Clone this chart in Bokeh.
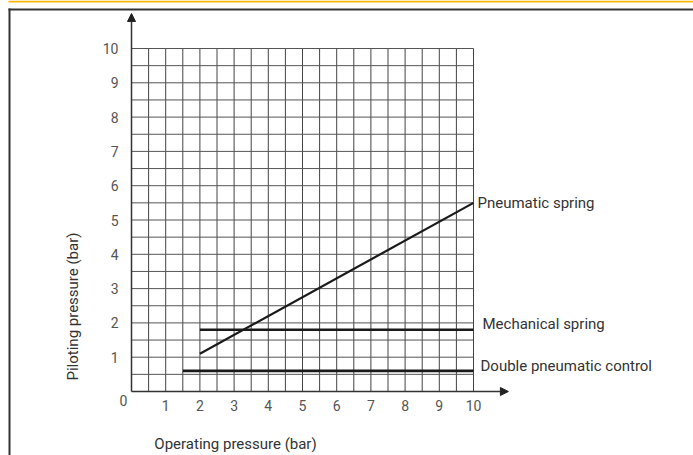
import numpy as np
from math import pi
from bokeh.plotting import figure
from bokeh.models import Range1d, FixedTicker, Label, Arrow, NormalHead, BoxAnnotation
from bokeh.embed import file_html
from bokeh.resources import INLINE

# ---- data ----
series_names = ["Pneumatic spring", "Mechanical spring", "Double pneumatic control"]
series_x = [[2, 10], [2, 10], [1.5, 10]]
series_y = [[1.1, 5.5], [1.8, 1.8], [0.6, 0.6]]
x_ticks = [1, 2, 3, 4, 5, 6, 7, 8, 9, 10]
y_ticks = [1, 2, 3, 4, 5, 6, 7, 8, 9, 10]
x_title = "Operating pressure (bar)"
y_title = "Piloting pressure (bar)"

FONT = "Roboto"
W, H = 693, 455
# pixel geometry of the plotting area
X0, Y0 = 131, 391          # canvas pixel of data origin
SX, SY = 34.2, 34.3        # pixels per unit

p = figure(width=W, height=H, output_backend="svg", toolbar_location=None,
           x_range=Range1d(-X0 / SX, (W - X0) / SX),
           y_range=Range1d(-(H - Y0) / SY, Y0 / SY), min_border=0)
p.outline_line_color = None
p.xgrid.visible = False
p.ygrid.visible = False
p.background_fill_color = "white"
p.border_fill_color = "white"

for ax, ticks in ((p.xaxis, x_ticks), (p.yaxis, y_ticks)):
    ax.fixed_location = 0
    ax.ticker = FixedTicker(ticks=ticks)
    ax.axis_line_color = None
    ax.major_tick_line_color = None
    ax.minor_tick_line_color = None
    ax.major_label_text_font = FONT
    ax.major_label_text_font_size = "14px"
    ax.major_label_text_color = "#555555"
p.xaxis.major_label_standoff = 2
p.yaxis.major_label_standoff = 7

# grid (every half unit, bounded 0..10)
gmax = max(x_ticks)
steps = np.arange(0.5, gmax + 0.01, 0.5)
p.segment(x0=steps, y0=0, x1=steps, y1=gmax, line_color="#444444", line_width=1)
p.segment(x0=0, y0=steps, x1=gmax, y1=steps, line_color="#555555", line_width=1)

# axes with arrows
for xe, ye in ((11.02, 0), (0, 11.02)):
    p.add_layout(Arrow(x_start=0, y_start=0, x_end=xe, y_end=ye, line_color="#333333",
                       line_width=1.5, end=NormalHead(size=8, fill_color="#222222",
                                                      line_color="#222222")))

# series
widths = [2.2, 2.6, 2.6]
offsets = [(4, 0), (9, 6), (7, 5)]
for name, xs, ys, w, (dx, dy) in zip(series_names, series_x, series_y, widths, offsets):
    p.line(xs, ys, line_color="#1a1a1a", line_width=w)
    p.add_layout(Label(x=xs[-1], y=ys[-1], x_offset=dx, y_offset=dy, text=name,
                       text_font=FONT, text_font_size="15px", text_color="#333333",
                       text_baseline="middle", text_align="left"))

# zero label
p.add_layout(Label(x=0, y=0, x_offset=-8, y_offset=-3, text="0", text_font=FONT,
                   text_font_size="14px", text_color="#555555", text_align="center",
                   text_baseline="top"))

# axis titles
p.add_layout(Label(x=(72 - X0) / SX, y=(Y0 - 306) / SY, text=y_title, angle=pi / 2,
                   text_font=FONT, text_font_size="15px", text_color="#333333",
                   text_align="center", text_baseline="middle"))
p.add_layout(Label(x=(235 - X0) / SX, y=(Y0 - 443) / SY, text=x_title, text_font=FONT,
                   text_font_size="15px", text_color="#333333", text_align="center",
                   text_baseline="middle"))

# page decoration: yellow rule and dark frame border (left and top)
def band(l, r, t, b, color):
    p.add_layout(BoxAnnotation(left=l, right=r, top=t, bottom=b, left_units="canvas",
                               right_units="canvas", top_units="canvas",
                               bottom_units="canvas", fill_color=color, fill_alpha=1,
                               line_color=None))

band(8, W, 0, 2, "#f6b90a")
band(8, W, 8, 10, "#333333")
band(8, 10, 8, H, "#333333")

open("out.html", "w").write(file_html(p, INLINE))
